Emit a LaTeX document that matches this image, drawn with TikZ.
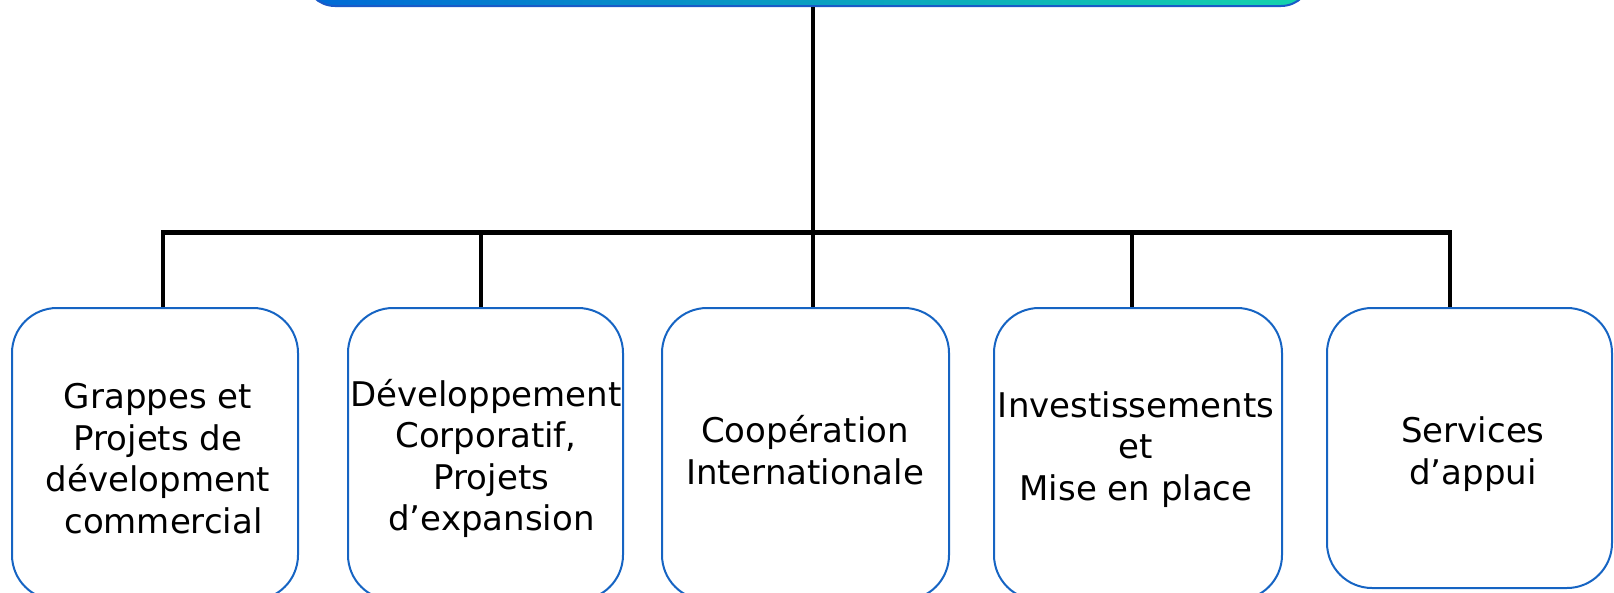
\documentclass[tikz,border=0pt]{standalone}
\usepackage{fontspec}
\setmainfont{DejaVu Sans}
\definecolor{boxblue}{RGB}{22,100,195}
\definecolor{topedge}{RGB}{25,90,200}
\definecolor{shadeL}{RGB}{0,105,215}
\definecolor{shadeM}{RGB}{35,190,228}
\definecolor{shadeR}{RGB}{20,212,172}
\newcommand\lstrut{\rule[-9pt]{0pt}{41pt}}
\begin{document}
\begin{tikzpicture}[x=1pt,y=-1pt,
  unitbox/.style={draw=boxblue, line width=2pt, rounded corners=45pt, inner sep=0pt},
  unittext/.style={font=\fontsize{34}{41.5}\selectfont, align=center, inner sep=0pt, text=black},
  link/.style={line width=4.5pt, draw=black}]
\useasboundingbox (0,0) rectangle (1614,592);
\clip (0,0) rectangle (1614,592);
% top box (mostly outside the picture)
\node[draw=topedge, line width=2pt, rounded corners=30pt, left color=shadeL, middle color=shadeM, right color=shadeR,
      minimum width=1006pt, minimum height=100pt, inner sep=0pt] (top) at (808,-44) {};
% unit boxes
\node[unitbox, minimum width=286pt, minimum height=292pt] (b1) at (155,454) {};
\node[unitbox, minimum width=275pt, minimum height=292pt] (b2) at (485.5,454) {};
\node[unitbox, minimum width=287pt, minimum height=292pt] (b3) at (805.5,454) {};
\node[unitbox, minimum width=288pt, minimum height=292pt] (b4) at (1138,454) {};
\node[unitbox, minimum width=285pt, minimum height=280pt] (b5) at (1469.5,448) {};
% texts
\node[unittext] (t1) at (158,459.5) {\lstrut Grappes et\\\lstrut Projets de\\\lstrut dévelopment\\\lstrut\hspace*{11pt}commercial};
\node[unittext] (t2) at (486,457) {\lstrut Développement\\\lstrut Corporatif,\\\lstrut\hspace*{11pt}Projets\\\lstrut\hspace*{11pt}d’expansion};
\node[unittext] (t3) at (805,452) {\lstrut Coopération\\\lstrut Internationale};
\node[unittext] (t4) at (1136,447) {\lstrut Investissements\\\lstrut et\\\lstrut Mise en place};
\node[unittext] (t5) at (1473,452) {\lstrut Services\\\lstrut d’appui};
% junctions on the bar
\coordinate (j1) at (163,232.5);
\coordinate (j2) at (481,232.5);
\coordinate (j3) at (813,232.5);
\coordinate (j4) at (1132,232.5);
\coordinate (j5) at (1450,232.5);
% connectors
\draw[link] (j1 |- b1.north) -- (j1) -- (j5) -- (j5 |- b5.north);
\draw[link] (top.south -| j3) -- (j3 |- b3.north);
\draw[link] (j2) -- (j2 |- b2.north);
\draw[link] (j4) -- (j4 |- b4.north);
\end{tikzpicture}
\end{document}
